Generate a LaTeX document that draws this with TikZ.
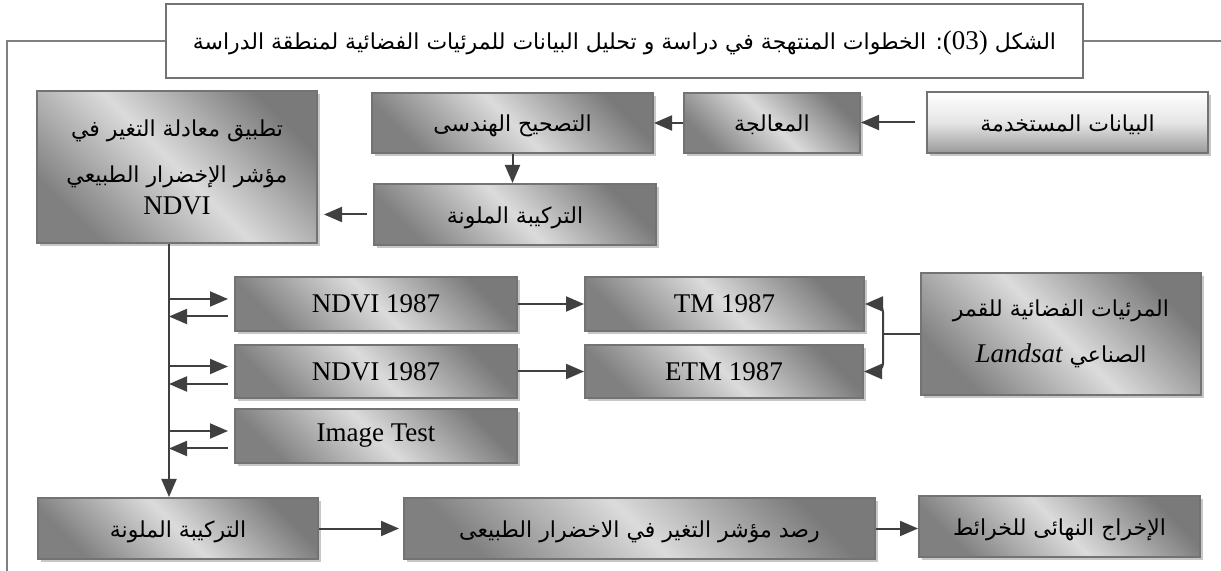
\documentclass[tikz,border=0pt]{standalone}
\usepackage{fontspec}
\setmainfont{Liberation Serif}
\newfontfamily\arabicfont[Script=Arabic]{DejaVu Sans}
\TeXXeTstate=1
\usetikzlibrary{arrows.meta,shadows}
\newcommand{\artext}[1]{{\arabicfont\fontsize{11pt}{14pt}\selectfont\beginR #1\endR}}
\newcommand{\latword}[1]{{\normalfont\fontsize{13.5pt}{16pt}\selectfont #1}}

\begin{document}
\begin{tikzpicture}[
        x=0.5pt, y=-0.5pt,
        every node/.style={font=\fontsize{13.5pt}{16pt}\selectfont, inner sep=0pt},
        panel/.style={draw=black!55, line width=1pt, top color=black!52, bottom color=black!50, middle color=black!14, shading angle=-45,
            drop shadow={shadow xshift=1.5pt, shadow yshift=-1.5pt, fill=black!22, opacity=1}},
        lightpanel/.style={panel, top color=white, bottom color=black!40, middle color=black!10, shading angle=0},
        arline/.style={text height=10pt, text depth=1pt},
        caption/.style={draw=black!55, line width=1pt, fill=white},
        arr/.style={draw=black!75, line width=1pt, -{Triangle[length=9pt,width=7.5pt]}},
        link/.style={draw=black!75, line width=1pt},
        frame/.style={draw=black!50, line width=0.8pt}
    ]
    \useasboundingbox (0,0) rectangle (1221,571);

    \node[caption, arline, minimum width=458.5pt, minimum height=37pt] (title) at (624.5,41)
        {\artext{الشكل \beginL\latword{(03)}\endL: الخطوات المنتهجة في دراسة و تحليل البيانات للمرئيات الفضائية لمنطقة الدراسة}};

    % top row
    \node[lightpanel, arline, minimum width=140.5pt, minimum height=30.5pt] (data) at (1067.5,122.5) {\artext{البيانات المستخدمة}};
    \node[panel, arline, minimum width=88pt, minimum height=30pt] (proc) at (772,123) {\artext{المعالجة}};
    \node[panel, arline, minimum width=140.5pt, minimum height=30pt] (geo) at (512.5,123) {\artext{التصحيح الهندسى}};
    \node[panel, arline, minimum width=141pt, minimum height=30.5pt] (comp1) at (515,214.5) {\artext{التركيبة الملونة}};
    \node[panel, minimum width=140pt, minimum height=76pt, align=center] (ndvi) at (177,167)
        {\artext{تطبيق معادلة التغير في}\\[7pt] \artext{مؤشر الإخضرار الطبيعي}\\ NDVI};

    % middle rows
    \node[panel, minimum width=141pt, minimum height=27pt] (nd1) at (376,304) {NDVI 1987};
    \node[panel, minimum width=141pt, minimum height=26.5pt] (nd2) at (376,371.5) {NDVI 1987};
    \node[panel, minimum width=141pt, minimum height=27pt] (test) at (376,436) {Image Test};
    \node[panel, minimum width=139.5pt, minimum height=27pt] (tm) at (724.5,304) {TM 1987};
    \node[panel, minimum width=139pt, minimum height=26.5pt] (etm) at (724,371.5) {ETM 1987};
    \node[panel, minimum width=140pt, minimum height=61pt, align=center] (sat) at (1061,334)
        {\artext{المرئيات الفضائية للقمر}\\[7pt] \artext{الصناعي \latword{\itshape Landsat}}};

    % bottom row
    \node[panel, arline, minimum width=140pt, minimum height=30.5pt] (comp2) at (178,528.5) {\artext{التركيبة الملونة}};
    \node[panel, arline, minimum width=235.5pt, minimum height=30.5pt] (watch) at (639.5,528.5) {\artext{رصد مؤشر التغير في الاخضرار الطبيعى}};
    \node[panel, arline, minimum width=140.5pt, minimum height=30.5pt] (maps) at (1059.5,526.5) {\artext{الإخراج النهائى للخرائط}};

    \coordinate (foot) at (7,571);
    \coordinate (edge) at (1221,41);
    \draw[frame] (title.west) -| (foot);
    \draw[frame] (title.east) -- (edge);

    \draw[arr, shorten <=5.5pt] (data.west) -- (data.west -| proc.east);
    \draw[arr] (proc.west) -- (proc.west -| geo.east);
    \draw[arr] (geo.south) -- (geo.south |- comp1.north);
    \draw[arr, shorten <=3pt, shorten >=3pt] (comp1.west) -- (comp1.west -| ndvi.east);

    \coordinate (spine) at ([xshift=-4pt]ndvi.south);
    \draw[arr] (spine) -- (spine |- comp2.north);
    \foreach \b in {nd1,nd2,test} {
        \draw[arr, shorten >=3pt] ([yshift=2.5pt]\b.west -| spine) -- ([yshift=2.5pt]\b.west);
        \draw[arr, shorten <=3pt] ([yshift=-6.25pt]\b.west) -- ([yshift=-6.25pt]\b.west -| spine);
    }
    \draw[arr] (nd1.east) -- (tm.west);
    \draw[arr] (nd2.east) -- (etm.west);

    \coordinate (fork) at ([xshift=-18.5pt]sat.west);
    \draw[link] (sat.west) -- (fork);
    \draw[arr, rounded corners=4pt] (fork) |- (tm.east);
    \draw[arr, rounded corners=4pt] (fork) |- (etm.east);

    \draw[arr, shorten >=2pt] (comp2.east) -- (watch.west);
    \draw[arr] (watch.east) -- (watch.east -| maps.west);
\end{tikzpicture}
\end{document}
